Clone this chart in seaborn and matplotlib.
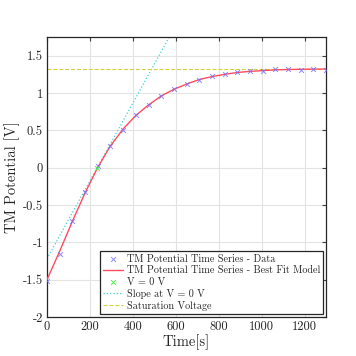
import numpy as np
import matplotlib
matplotlib.use("Agg")
import matplotlib.pyplot as plt
import seaborn as sns

# ── Data ──────────────────────────────────────────────────────
time_s = [0, 59, 118, 177, 236, 295, 355, 414, 473, 532, 591, 650,
          709, 768, 827, 886, 945, 1005, 1064, 1123, 1182, 1241, 1300]
tm_data = [-1.52, -1.15, -0.71, -0.33, 0.02, 0.29, 0.51, 0.70, 0.84, 0.955,
           1.05, 1.125, 1.18, 1.225, 1.25, 1.28, 1.29, 1.30, 1.315, 1.315,
           1.31, 1.32, 1.31]
tm_fit = [-1.50, -1.12, -0.72, -0.34, 0.00, 0.29, 0.52, 0.70, 0.84, 0.96,
          1.05, 1.12, 1.18, 1.22, 1.25, 1.275, 1.29, 1.30, 1.31, 1.315,
          1.318, 1.32, 1.322]
zero_t, zero_v = [232], [0.0]
slope_t = [0, 700]
slope_v = [-1.22, 2.43]
sat_v = 1.32

xticks = [0, 200, 400, 600, 800, 1000, 1200]
yticks = [-2, -1.5, -1, -0.5, 0, 0.5, 1, 1.5]
ytick_labels = ["-2", "-1.5", "-1", "-0.5", "0", "0.5", "1", "1.5"]

sns.set_style("white")
plt.rcParams["font.family"] = ["cmr10", "DejaVu Serif"]
plt.rcParams["axes.unicode_minus"] = False
plt.rcParams["mathtext.fontset"] = "cm"

fig = plt.figure(figsize=(3.56, 3.56), dpi=100)
ax = fig.add_axes([0.132, 0.1096, 0.784, 0.7864])

sns.scatterplot(x=time_s, y=tm_data, ax=ax, marker="x", s=12, linewidth=0.7,
                color="#6f6fff", alpha=0.8, zorder=4,
                label="TM Potential Time Series - Data")
sns.lineplot(x=time_s, y=tm_fit, ax=ax, color="#ff4d5e", linewidth=1.0,
             zorder=3, label="TM Potential Time Series - Best Fit Model")
sns.scatterplot(x=zero_t, y=zero_v, ax=ax, marker="x", s=12, linewidth=0.7,
                color="#55ee55", zorder=5, label="V = 0 V")
sns.lineplot(x=slope_t, y=slope_v, ax=ax, color="#3fd3d3", linewidth=0.9,
             linestyle=":", zorder=2, label="Slope at V = 0 V")
ax.axhline(sat_v, color="#d2d245", linewidth=0.8, linestyle="--", zorder=2,
           label="Saturation Voltage")

ax.set_xlim(0, 1300)
ax.set_ylim(-2, 1.75)
ax.set_xticks(xticks)
ax.set_xticklabels([str(v) for v in xticks])
ax.set_yticks(yticks)
ax.set_yticklabels(ytick_labels)
ax.tick_params(direction="in", length=3, width=0.8, labelsize=9,
               top=True, right=True, color="#404040", pad=3)
ax.grid(True, color="#e3e3e3", linewidth=0.8)
for sp in ax.spines.values():
    sp.set_color("#262626")
    sp.set_linewidth(0.9)

ax.set_xlabel("Time[s]", fontsize=10.5, labelpad=1)
ax.set_ylabel("TM Potential [V]", fontsize=10.5, labelpad=2)

leg = ax.legend(loc="lower right", fontsize=7.3, frameon=True, fancybox=False,
                framealpha=1, edgecolor="#262626", borderaxespad=0.3,
                handlelength=1.9, handletextpad=0.4, labelspacing=0.2,
                borderpad=0.3)
leg.get_frame().set_linewidth(0.9)

fig.savefig("out.png", dpi=100)
